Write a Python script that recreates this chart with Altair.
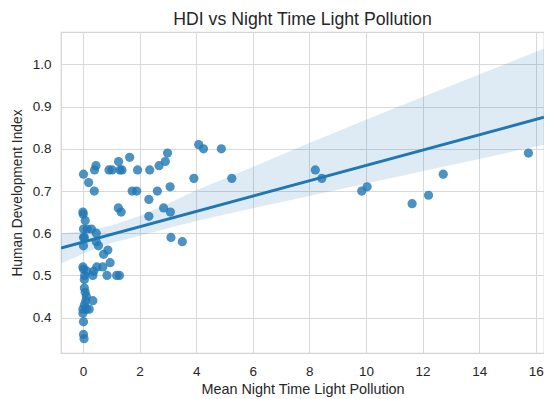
import altair as alt
import numpy as np
import pandas as pd

# Mean night-time light pollution (x) and HDI (y)
light = [
    0.02, 0.20, 0.40, 0.41, 0.46, 0.92, 1.03, 1.26, 1.31, 1.38,
    1.65, 1.74, 1.90, 1.93, 1.25, 1.35, 2.33, 2.33, 2.36, 2.63,
    2.69, 2.85, 2.91, 2.99, 3.08, 3.09, 3.11, 3.51, 3.92, 4.09,
    4.26, 4.89, 5.26, 8.21, 8.44, 9.85, 10.04, 11.63, 12.21, 12.73,
    15.74,
    0.00, 0.01, 0.08, 0.02, 0.30, 0.15, 0.47, 0.05, 0.02, 0.47,
    0.02, 0.55, 0.88, 0.73, 0.96, 0.00, 0.02, 0.49, 0.70, 0.14,
    0.38, 0.06, 0.35, 0.85, 1.19, 1.29, 0.05, 0.05, 0.08, 0.12,
    0.10, 0.35, 0.00, 0.12, 0.22, 0.05, 0.00, 0.02, 0.02, 0.04,
]
hdi = [
    0.74, 0.72, 0.70, 0.75, 0.76, 0.75, 0.75, 0.77, 0.75, 0.75,
    0.78, 0.70, 0.70, 0.75, 0.66, 0.65, 0.64, 0.68, 0.75, 0.70,
    0.76, 0.66, 0.77, 0.79, 0.71, 0.65, 0.59, 0.58, 0.73, 0.81,
    0.80, 0.80, 0.73, 0.75, 0.73, 0.70, 0.71, 0.67, 0.69, 0.74,
    0.79,
    0.65, 0.645, 0.63, 0.61, 0.61, 0.61, 0.60, 0.59, 0.59, 0.58,
    0.57, 0.57, 0.56, 0.55, 0.53, 0.52, 0.515, 0.52, 0.52, 0.51,
    0.51, 0.50, 0.50, 0.50, 0.50, 0.50, 0.49, 0.47, 0.46, 0.45,
    0.44, 0.44, 0.42, 0.42, 0.42, 0.43, 0.41, 0.39, 0.36, 0.35,
]

# 95% confidence band of the regression
band_x = [-0.775, 0, 1, 2, 3, 4, 6, 8, 10, 12, 14, 16.3]
band_lo = [0.528, 0.551, 0.577, 0.594, 0.612, 0.629, 0.659, 0.688, 0.718, 0.747, 0.776, 0.810]
band_hi = [0.600, 0.604, 0.618, 0.641, 0.670, 0.702, 0.757, 0.814, 0.869, 0.923, 0.976, 1.038]

x_ticks = [0, 2, 4, 6, 8, 10, 12, 14, 16]
y_ticks = [0.4, 0.5, 0.6, 0.7, 0.8, 0.9, 1.0]
x_domain = [-0.775, 16.29]
y_domain = [0.316, 1.077]

pts = pd.DataFrame({"x": light, "y": hdi})
band_df = pd.DataFrame({"x": band_x, "lo": band_lo, "hi": band_hi})

# ordinary least-squares regression line through the points
b1, b0 = np.polyfit(np.array(light), np.array(hdi), 1)
fit = pd.DataFrame({"x": x_domain, "y": [b0 + b1 * v for v in x_domain]})

blue = "#1f77b4"
xs = alt.Scale(domain=x_domain, nice=False, zero=False)
ys = alt.Scale(domain=y_domain, nice=False, zero=False)

xax = alt.Axis(values=x_ticks, title="Mean Night Time Light Pollution", format="d",
               titleFontSize=14.4)
yax = alt.Axis(values=y_ticks, title="Human Development Index", format=".1f",
               titleFontSize=13.8)

band = alt.Chart(band_df).mark_area(color=blue, opacity=0.15, clip=True).encode(
    x=alt.X("x:Q", scale=xs, axis=xax),
    y=alt.Y("lo:Q", scale=ys, axis=yax),
    y2="hi:Q",
)
line = alt.Chart(fit).mark_line(color=blue, strokeWidth=3, clip=True).encode(
    x=alt.X("x:Q", scale=xs),
    y=alt.Y("y:Q", scale=ys),
)
dots = alt.Chart(pts).mark_circle(color=blue, opacity=0.8, size=85, clip=True).encode(
    x=alt.X("x:Q", scale=xs),
    y=alt.Y("y:Q", scale=ys),
)

chart = (
    alt.layer(band, dots, line)
    .properties(
        width=483,
        height=321,
        title=alt.TitleParams("HDI vs Night Time Light Pollution", fontSize=17.7,
                              font="Liberation Sans", fontWeight="normal",
                              color="#262626", offset=3),
        autosize=alt.AutoSizeParams(type="none"),
        padding={"left": 53, "top": 24, "right": 0, "bottom": 44},
    )
    .configure_view(stroke="#d4d4d4", strokeWidth=1.25)
    .configure_axis(
        grid=True, gridColor="#d9d9d9", gridWidth=1, domain=False, ticks=False,
        labelFont="Liberation Sans", labelFontSize=13.5, labelColor="#262626",
        titleFont="Liberation Sans", titleFontWeight="normal",
        titleColor="#262626",
    )
    .configure_axisX(labelPadding=11, titlePadding=5)
    .configure_axisY(labelPadding=10, titlePadding=8)
)

chart.save("out.html", embed_options={"renderer": "svg", "actions": False})
